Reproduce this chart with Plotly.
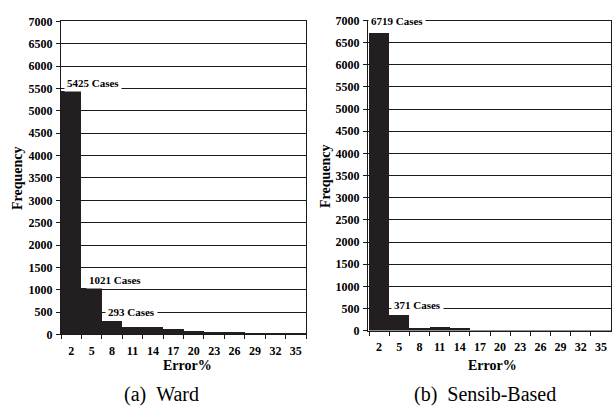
import plotly.graph_objects as go

categories = ["2", "5", "8", "11", "14", "17", "20", "23", "26", "29", "32", "35"]
ward_freq = [5425, 1021, 293, 165, 152, 110, 68, 35, 28, 14, 14, 20]
sensib_freq = [6719, 371, 62, 85, 70, 30, 15, 8, 5, 5, 4, 3]
y_ticks = list(range(0, 7001, 500))

SERIF = "Liberation Serif"
BAR = "#231f20"
LINE = "#1a1a1a"

fig = go.Figure()
fig.add_trace(go.Bar(x=categories, y=ward_freq, marker=dict(color=BAR, line=dict(width=0)),
                     xaxis="x", yaxis="y", showlegend=False))
fig.add_trace(go.Bar(x=categories, y=sensib_freq, marker=dict(color=BAR, line=dict(width=0)),
                     xaxis="x2", yaxis="y2", showlegend=False))

W, H = 613, 412

def xd(a, b):
    return [a / W, b / W]

def yd(top, bottom):
    return [1 - bottom / H, 1 - top / H]

common_x = dict(type="category", tickson="boundaries", ticks="outside", ticklen=4,
                tickcolor=LINE, showline=True, linecolor=LINE, linewidth=1, mirror=True,
                showgrid=False, tickangle=0, ticklabelstandoff=5,
                tickfont=dict(family=SERIF, size=12, color="black", weight="bold"))
common_y = dict(range=[0, 7000], tickvals=y_ticks, ticks="outside", ticklen=4, tickcolor=LINE,
                showline=True, linecolor=LINE, linewidth=1, mirror=True,
                showgrid=True, gridcolor=LINE, gridwidth=1, zeroline=False,
                ticklabelstandoff=1,
                tickfont=dict(family=SERIF, size=12, color="black", weight="bold"))

fig.update_layout(
    width=W, height=H, margin=dict(l=0, r=0, t=0, b=0),
    paper_bgcolor="white", plot_bgcolor="white", bargap=0,
    xaxis=dict(domain=xd(61, 306), anchor="y", **common_x),
    yaxis=dict(domain=yd(15, 339), anchor="x", **common_y),
    xaxis2=dict(domain=xd(368, 611), anchor="y2", **common_x),
    yaxis2=dict(domain=yd(14, 335), anchor="x2", **common_y),
)

ann_font = dict(family=SERIF, size=11, color="black", weight="bold")
labels = [
    ("x", "y", -0.35, 5425, 0, "5425 Cases"),
    ("x", "y", 0.73, 1021, 0, "1021 Cases"),
    ("x", "y", 1.66, 293, 0, "293 Cases"),
    ("x2", "y2", -0.55, 6719, 3, "6719 Cases"),
    ("x2", "y2", 0.58, 371, 0, "371 Cases"),
]
for xr, yr, xv, yv, ys, txt in labels:
    fig.add_annotation(x=xv, y=yv, xref=xr, yref=yr, text=txt, showarrow=False,
                       xanchor="left", yanchor="bottom", yshift=ys, font=ann_font,
                       bgcolor="white", borderpad=2)

# axis titles
title_font = dict(family=SERIF, size=14, color="black", weight="bold")
for xc, yc, txt, ang in [(187, 371, "Error%", 0), (492, 371, "Error%", 0),
                         (18, 177, "Frequency", -90), (325, 175, "Frequency", -90)]:
    fig.add_annotation(x=xc / W, y=1 - yc / H, xref="paper", yref="paper", text=txt,
                       showarrow=False, xanchor="center", yanchor="middle", textangle=ang,
                       font=title_font)

for xc, txt in [(161.5, "(a)\u00a0\u00a0Ward"), (484.5, "(b)\u00a0\u00a0Sensib-Based")]:
    fig.add_annotation(x=xc / W, y=1 - 401 / H, xref="paper", yref="paper", text=txt,
                       showarrow=False, xanchor="center", yanchor="middle",
                       font=dict(family=SERIF, size=20, color="black"))

fig.write_html("out.html", config={"displayModeBar": False},
               post_script="document.body.style.margin='0';document.body.style.overflow='hidden';")
